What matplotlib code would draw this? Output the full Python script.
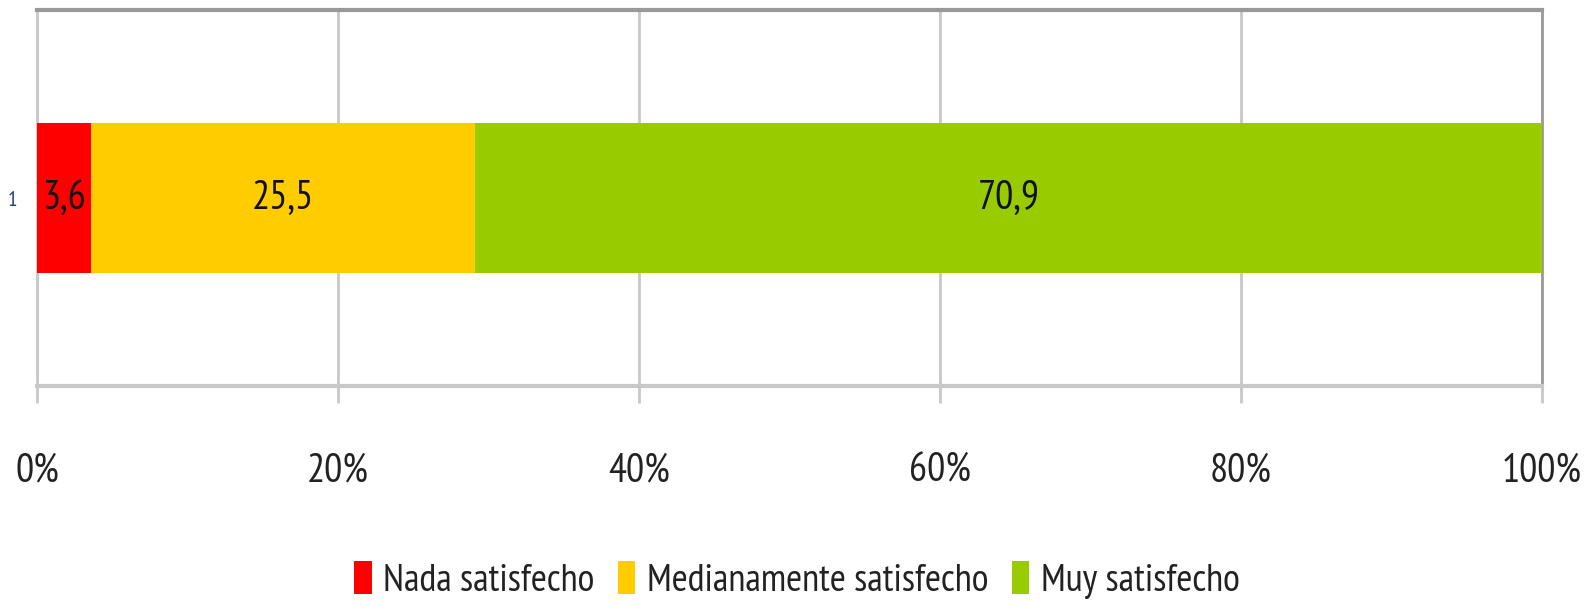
"""
Stacked 100% horizontal bar: nivel de satisfacción.
Writes out.png (1587x610).
"""

import matplotlib
matplotlib.use("Agg")
import matplotlib.pyplot as plt
from matplotlib.ticker import FuncFormatter

plt.rcParams["font.family"] = ["PT Sans Narrow", "Carlito", "DejaVu Sans"]

categories = ["1"]
series_names = ["Nada satisfecho", "Medianamente satisfecho", "Muy satisfecho"]
series_values = [[3.6], [25.5], [70.9]]
series_labels = ["3,6", "25,5", "70,9"]
colors = ["#FF0000", "#FFCC00", "#99CC00"]
xticks = [0, 20, 40, 60, 80, 100]

fig = plt.figure(figsize=(15.87, 6.10), dpi=100)
ax = fig.add_axes([37 / 1587, 1 - 386 / 610, (1542 - 37) / 1587, (386 - 10) / 610])

y = list(range(len(categories)))
left = [0.0] * len(categories)
for name, vals, lab, col in zip(series_names, series_values, series_labels, colors):
    bars = ax.barh(y, vals, left=left, height=0.4, color=col, label=name, zorder=3)
    ax.bar_label(bars, labels=[lab] * len(vals), label_type="center",
                 fontsize=29, color="#111111")
    left = [l + v for l, v in zip(left, vals)]

ax.set_xlim(0, 100)
ax.set_ylim(-0.5, 0.5)
ax.set_xticks(xticks)
ax.xaxis.set_major_formatter(FuncFormatter(lambda v, p: f"{v:.0f}%"))
ax.set_yticks(y)
ax.set_yticklabels(categories)
ax.tick_params(axis="x", labelsize=29, length=12, width=2, color="#C8C8C8",
               pad=36, labelcolor="#222222")
ax.tick_params(axis="y", labelsize=15, length=0, pad=14, labelcolor="#1F3F7F")
ax.grid(axis="x", color="#C8C8C8", linewidth=2, zorder=0)

ax.spines["top"].set_color("#999999")
ax.spines["top"].set_linewidth(3)
ax.spines["right"].set_color("#999999")
ax.spines["right"].set_linewidth(2)
ax.spines["bottom"].set_color("#C8C8C8")
ax.spines["bottom"].set_linewidth(3)
ax.spines["left"].set_color("#C8C8C8")
ax.spines["left"].set_linewidth(2)

fig.legend(loc="center", bbox_to_anchor=(797 / 1587, 1 - 580 / 610), ncol=3,
           frameon=False, fontsize=28, handlelength=0.45, handleheight=0.9,
           handletextpad=0.3, columnspacing=0.6, labelcolor="#222222")

fig.savefig("out.png", dpi=100)
